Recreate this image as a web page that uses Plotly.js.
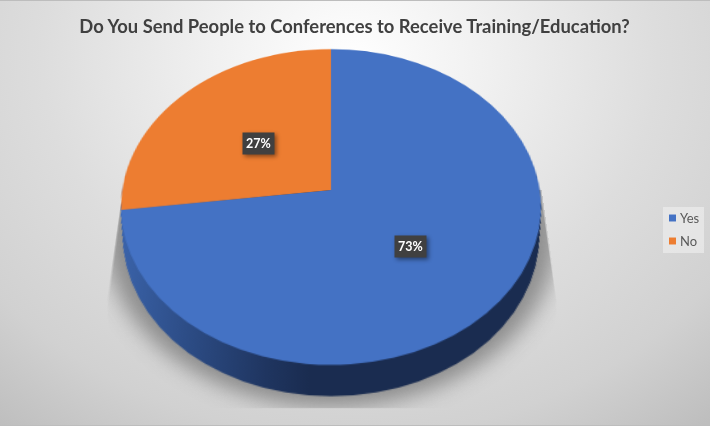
<!DOCTYPE html>
<html>
<head>
<meta charset="utf-8">
<script src="https://cdn.plot.ly/plotly-3.0.1.min.js"></script>
<style>
html,body{margin:0;padding:0;width:710px;height:426px;overflow:hidden}
body{background:radial-gradient(ellipse 560px 470px at 350px 60px,#ffffff 0%,#f0f0f0 25%,#dddddd 55%,#d1d1d1 80%,#bebebe 100%)}
#chart{position:absolute;left:0;top:0;width:710px;height:426px}
#edge{position:absolute;left:0;top:0;width:710px;height:1px;background:#bdbdbd}
#edge2{position:absolute;left:0;top:425px;width:710px;height:1px;background:#bdbdbd}
</style>
</head>
<body>
<div id="chart"></div>
<div id="edge"></div>
<div id="edge2"></div>
<script>
const categories = ['Yes', 'No'];
const shares = [73, 27];
const sliceColors = ['#4472C4', '#ED7D31'];
const labelPositions = [[410, 246.5], [258, 143]];
const titleText = 'Do You Send People to Conferences to Receive Training/Education?';

const W = 710, H = 426;
const scale = 1.3, tiltDeg = 41.6, persp = 1288;
const cx = 331, cy = 190, R = 208.8 / scale, depth = 30;
const shadowOutline = [[121,205],[108,300],[108,408],[556,408],[556,300],[541,190]];

function dom(r, shift) {
  return {
    x: [(cx - r) / W, (cx + r) / W],
    y: [1 - (cy + shift + r) / H, 1 - (cy + shift - r) / H]
  };
}
const data = [];
data.push({type:'pie', labels:['shadow'], values:[1], sort:false, showlegend:false, textinfo:'none', hoverinfo:'skip',
  marker:{colors:['#5a5a5a'], line:{width:0}}, opacity:0.6, domain:dom(170, 24)});
for (let s = depth; s > 0; s -= 1.5) {
  data.push({type:'pie', labels:['wall'], values:[1], sort:false, showlegend:false, textinfo:'none', hoverinfo:'skip',
    marker:{colors:['#1a2c50'], line:{width:0}}, domain:dom(R * (1 - 0.03 * s / depth), s)});
}
data.push({type:'pie', labels:categories, values:shares, sort:false, direction:'clockwise', rotation:0,
  textinfo:'none', hoverinfo:'label+percent', marker:{colors:sliceColors, line:{width:0}}, domain:dom(R, 0)});

const annotations = categories.map((c, i) => ({
  xref:'paper', yref:'paper', x:labelPositions[i][0]/W, y:1-labelPositions[i][1]/H,
  text:'<b>'+shares[i]+'%</b>', showarrow:false, bgcolor:'#404040', borderpad:3,
  font:{family:'Lato, sans-serif', size:12.5, color:'#ffffff'}
}));

const layout = {
  width:W, height:H, margin:{l:0,r:0,t:0,b:0,autoexpand:false},
  paper_bgcolor:'rgba(0,0,0,0)', plot_bgcolor:'rgba(0,0,0,0)',
  title:{text:'<b>'+titleText+'</b>', x:354.5/W, xanchor:'center', y:1-27/H, yanchor:'middle',
    font:{family:'Lato, sans-serif', size:18.4, color:'#404040'}},
  showlegend:true,
  legend:{x:640/W, xanchor:'left', y:1-207/H, yanchor:'top', bgcolor:'rgba(240,240,240,0.6)',
    font:{family:'Lato, sans-serif', size:13, color:'#595959'}, itemwidth:30, tracegroupgap:0},
  annotations:annotations
};

Plotly.newPlot('chart', data, layout, {displayModeBar:false, staticPlot:true}).then(() => {
  const gd = document.getElementById('chart');
  const svg = gd.querySelector('svg.main-svg');
  svg.style.transformOrigin = cx + 'px ' + cy + 'px';
  svg.style.transform = 'perspective(' + persp + 'px) rotateX(' + tiltDeg + 'deg) scale(' + scale + ')';
  svg.style.overflow = 'visible';
  const NS = 'http://www.w3.org/2000/svg';
  const defs = svg.querySelector('defs') || svg.insertBefore(document.createElementNS(NS,'defs'), svg.firstChild);
  const g = document.createElementNS(NS,'linearGradient');
  g.setAttribute('id','wallGrad'); g.setAttribute('gradientUnits','userSpaceOnUse');
  g.setAttribute('x1',cx-R); g.setAttribute('x2',cx-15); g.setAttribute('y1',0); g.setAttribute('y2',0);
  [[0,'#3c65ad'],[0.45,'#2b4a82'],[0.8,'#1f3560'],[1,'#1a2c50']].forEach(s => {
    const st = document.createElementNS(NS,'stop');
    st.setAttribute('offset',s[0]); st.setAttribute('stop-color',s[1]); g.appendChild(st);
  });
  defs.appendChild(g);
  // shadow outline, mapped from the screen back onto the tilted plane
  const rad = tiltDeg * Math.PI / 180, ca = Math.cos(rad), sa = Math.sin(rad) / persp;
  const pts = shadowOutline.map(p => {
    const yy = p[1] - cy, xx = p[0] - cx;
    const y = yy / (ca + yy * sa), x = xx * (1 - y * sa);
    return (cx + x / scale) + ',' + (cy + y / scale);
  }).join(' ');
  const clip = document.createElementNS(NS,'clipPath');
  clip.setAttribute('id','shadowClip');
  const poly = document.createElementNS(NS,'polygon');
  poly.setAttribute('points', pts);
  clip.appendChild(poly);
  defs.appendChild(clip);
  const traces = svg.querySelectorAll('.pielayer .trace');
  traces.forEach((t,i) => {
    if (i === 0) { t.style.filter = 'blur(8px)'; t.setAttribute('clip-path','url(#shadowClip)'); }
    else if (i < traces.length - 1) t.querySelectorAll('path.surface').forEach(p => p.style.fill = 'url(#wallGrad)');
  });
  gd.querySelectorAll('.annotation-text-g').forEach(a => a.style.filter = 'drop-shadow(2px 2px 2px rgba(0,0,0,0.45))');
  // compact legend, as in the source chart
  const leg = gd.querySelector('.legend');
  leg.setAttribute('transform','translate(663,207)');
  const bg = leg.querySelector('rect.bg');
  bg.setAttribute('width',40.5); bg.setAttribute('height',46);
  const rows = [11, 34];
  leg.querySelectorAll('.traces').forEach((t,i) => t.setAttribute('transform','translate(0,'+rows[i]+')'));
  leg.querySelectorAll('.legendpoints path').forEach(p => p.setAttribute('transform','translate(9.5,0) scale(0.58)'));
  leg.querySelectorAll('.legendtext').forEach(p => p.setAttribute('x',17));
});
</script>
</body>
</html>
